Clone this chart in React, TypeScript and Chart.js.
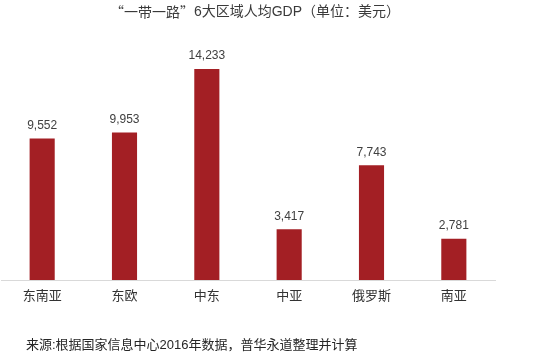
import React, { useEffect, useRef } from "react";
import { Chart, registerables } from "chart.js";

Chart.register(...registerables);

const categories: string[] = ["东南亚", "东欧", "中东", "中亚", "俄罗斯", "南亚"];
const gdpPerCapita: number[] = [9552, 9953, 14233, 3417, 7743, 2781];
const titleQuoted = "“一带一路”";
const titleRest = "6大区域人均GDP（单位：美元）";
const sourceText = "来源:根据国家信息中心2016年数据，普华永道整理并计算";

const FONT = '"Liberation Sans", Arial, "Noto Sans CJK SC", sans-serif';
const CJK = '"Noto Sans CJK SC", sans-serif';

const textPlugin = {
  id: "customText",
  afterDatasetsDraw(chart: any) {
    const ctx = chart.ctx;
    ctx.save();
    // value labels
    const meta = chart.getDatasetMeta(0);
    ctx.font = `12px ${FONT}`;
    ctx.fillStyle = "#404040";
    ctx.textAlign = "center";
    ctx.textBaseline = "middle";
    meta.data.forEach((bar: any, i: number) => {
      const v = gdpPerCapita[i];
      ctx.fillText(v.toLocaleString("en-US"), bar.x, bar.y - 13);
    });
    // title (quoted part uses full-width CJK quotes)
    ctx.textAlign = "left";
    ctx.fillStyle = "#3a3a3a";
    ctx.font = `14px ${CJK}`;
    const w1 = ctx.measureText(titleQuoted).width;
    ctx.font = `14px ${FONT}`;
    const w2 = ctx.measureText(titleRest).width;
    const startX = 255 - (w1 + w2) / 2;
    ctx.font = `14px ${CJK}`;
    ctx.fillText(titleQuoted, startX, 12);
    ctx.font = `14px ${FONT}`;
    ctx.fillText(titleRest, startX + w1, 12);
    // source note
    ctx.font = `13px ${FONT}`;
    ctx.fillStyle = "#262626";
    ctx.fillText(sourceText, 26, 345);
    ctx.restore();
  },
};

export default function App() {
  const ref = useRef<HTMLCanvasElement | null>(null);
  useEffect(() => {
    if (!ref.current) return;
    const chart = new Chart(ref.current, {
      type: "bar",
      data: {
        labels: categories,
        datasets: [
          {
            data: gdpPerCapita,
            backgroundColor: "#A31F24",
            borderWidth: 0,
            categoryPercentage: 1,
            barPercentage: 0.305,
          },
        ],
      },
      options: {
        responsive: false,
        animation: false,
        events: [],
        layout: { padding: { top: 42.8, left: 1, right: 59, bottom: 39.4 } },
        plugins: {
          legend: { display: false },
          title: { display: false },
          tooltip: { enabled: false },
        },
        scales: {
          x: {
            grid: { display: false, drawTicks: false },
            border: { display: true, color: "#d9d9d9", width: 1 },
            ticks: {
              padding: 9,
              color: "#333333",
              font: { size: 13, family: FONT },
            },
          },
          y: {
            display: false,
            min: 0,
            max: 16000,
          },
        },
      },
      plugins: [textPlugin],
    });
    return () => chart.destroy();
  }, []);
  return (
    <div style={{ position: "absolute", left: 0, top: 0, width: 554, height: 353, background: "#fff" }}>
      <canvas ref={ref} width={554} height={353} />
    </div>
  );
}
